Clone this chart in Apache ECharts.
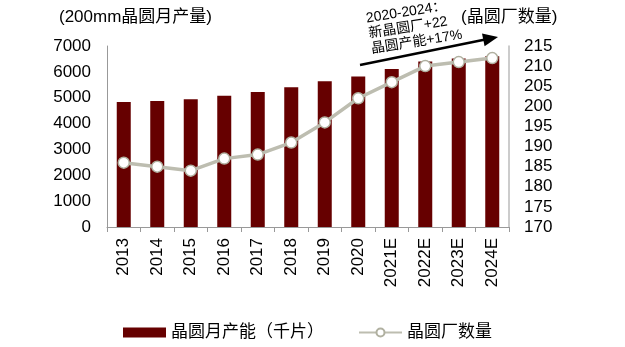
<!DOCTYPE html>
<html><head><meta charset="utf-8">
<script src="https://cdn.jsdelivr.net/npm/echarts@6/dist/echarts.min.js"></script>
<style>html,body{margin:0;padding:0;background:#fff}#c{width:625px;height:347px}</style>
</head><body><div id="c"></div>
<script>
const categories = ['2013','2014','2015','2016','2017','2018','2019','2020','2021E','2022E','2023E','2024E'];
const capacity = [4830, 4870, 4940, 5080, 5220, 5400, 5640, 5820, 6110, 6400, 6520, 6600];
const fabs = [186, 185, 184, 187, 188, 191, 196, 202, 206, 210, 211, 212];
const leftTitle = '(200mm晶圆月产量)';
const rightTitle = '(晶圆厂数量)';
const noteText = '2020-2024：\n新晶圆厂+22\n晶圆产能+17%';
const FONT = '"Liberation Sans", Arial, "Noto Sans CJK SC", sans-serif';

const chart = echarts.init(document.getElementById('c'), null, {renderer:'canvas'});

// arrow geometry
const ax0 = 360, ay0 = 65, ax1 = 498, ay1 = 37;
const dx = ax1-ax0, dy = ay1-ay0, L = Math.sqrt(dx*dx+dy*dy);
const ux = dx/L, uy = dy/L, px = -uy, py = ux;
const hl = 15, hw = 6.5;
const bx = ax1-ux*hl, by = ay1-uy*hl;

chart.setOption({
  animation:false,
  backgroundColor:'#fff',
  textStyle:{fontFamily:FONT},
  title:[
    {text:leftTitle, left:54, top:4, textStyle:{fontSize:17, fontWeight:'normal', color:'#000', fontFamily:FONT}},
    {text:rightTitle, left:456, top:4, textStyle:{fontSize:17, fontWeight:'normal', color:'#000', fontFamily:FONT}}
  ],
  grid:{left:107, right:116, top:46, bottom:120, containLabel:false},
  legend:{
    left:123, top:324, padding:0, itemWidth:43, itemHeight:10, itemGap:34,
    textStyle:{fontSize:17, color:'#000', fontFamily:FONT},
    data:[{name:'晶圆月产能（千片）', icon:'rect'}, {name:'晶圆厂数量'}]
  },
  xAxis:{
    type:'category', data:categories,
    axisLine:{lineStyle:{color:'#999', width:1}},
    axisTick:{show:true, alignWithLabel:false, length:5, lineStyle:{color:'#999'}},
    axisLabel:{rotate:90, fontSize:17, color:'#000', margin:11, fontFamily:FONT, interval:0}
  },
  yAxis:[
    {type:'value', min:0, max:7000, interval:1000,
     axisLine:{show:true, lineStyle:{color:'#999'}}, axisTick:{show:false}, splitLine:{show:false},
     axisLabel:{fontSize:17, color:'#000', margin:16, fontFamily:FONT, formatter:v=>String(v)}},
    {type:'value', min:170, max:215, interval:5, position:'right',
     axisLine:{show:true, lineStyle:{color:'#bbb', width:1.5}}, axisTick:{show:false}, splitLine:{show:false},
     axisLabel:{fontSize:17, color:'#000', margin:15, fontFamily:FONT, formatter:v=>String(v)}}
  ],
  series:[
    {name:'晶圆月产能（千片）', type:'bar', data:capacity, barWidth:14, yAxisIndex:0,
     itemStyle:{color:'#660000'}},
    {name:'晶圆厂数量', type:'line', data:fabs, yAxisIndex:1,
     symbol:'circle', symbolSize:11, showSymbol:true,
     lineStyle:{color:'#bdbdb0', width:3.5},
     itemStyle:{color:'#fff', borderColor:'#b0b0a0', borderWidth:1.5}, z:3}
  ],
  graphic:[
    {type:'line', shape:{x1:ax0, y1:ay0, x2:bx+ux*2, y2:by+uy*2}, style:{stroke:'#000', lineWidth:2.5}, z:10},
    {type:'polygon', shape:{points:[[ax1,ay1],[bx+px*hw,by+py*hw],[bx-px*hw,by-py*hw]]}, style:{fill:'#000'}, z:10},
    {type:'text', x:365, y:11, rotation:9*Math.PI/180,
     style:{text:noteText, fontSize:14, lineHeight:15.5, fill:'#000', align:'left', verticalAlign:'top', fontFamily:FONT}, z:10}
  ]
});
</script></body></html>
